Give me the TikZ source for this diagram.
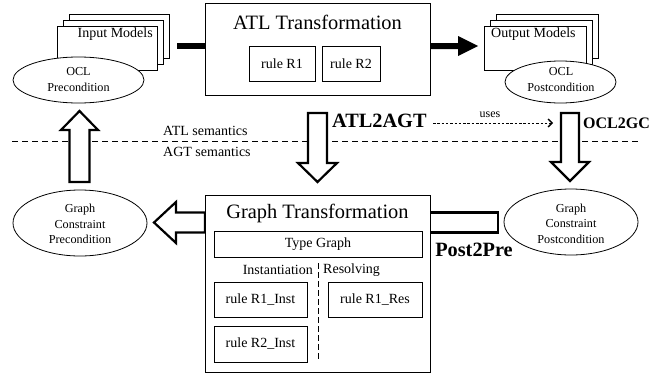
\documentclass[tikz,border=0pt]{standalone}
\usepackage{fontspec}
\setmainfont{Liberation Serif}
\usetikzlibrary{arrows.meta,shapes.geometric}
\begin{document}
\begin{tikzpicture}[x=1pt,y=-1pt,
  box/.style={draw, line width=0.8pt, fill=white, inner sep=0pt},
  ell/.style={draw, ellipse, line width=0.8pt, fill=white, inner sep=0pt},
  txt/.style={inner sep=0pt, font=\fontsize{14}{16}\selectfont},
  small/.style={inner sep=0pt, align=center, font=\fontsize{12.2}{15.5}\selectfont},
  title/.style={inner sep=0pt, font=\fontsize{20.4}{24}\selectfont},
  bold/.style={inner sep=0pt, font=\fontsize{20.3}{24}\selectfont\bfseries},
  hollow/.style={draw, line width=2.2pt, fill=white, line join=miter},
  sep/.style={draw, line width=0.8pt, dash pattern=on 6pt off 4pt}]
\useasboundingbox (0,0) rectangle (651,375);

% input model stack
\draw[box] (69,14) rectangle (169,58);
\draw[box] (63,20) rectangle (163,64);
\draw[box] (57,26) rectangle (157,70);
\node[txt, anchor=east] (inm) at (153,34) {Input Models};
\node[ell, minimum width=131pt, minimum height=46pt] (oclpre) at (78.5,80) {};
\node[small] at (78.5,79.5) {OCL\\Precondition};

% output model stack
\draw[box] (496,14) rectangle (598,58);
\draw[box] (490,20) rectangle (592,64);
\draw[box] (484,26) rectangle (586,70);
\node[txt, anchor=west] (outm) at (491,34) {Output Models};
\node[ell, minimum width=111pt, minimum height=42pt] (oclpost) at (560.5,82) {};
\node[small] at (561,79.5) {OCL\\Postcondition};

% ATL transformation
\node[box, minimum width=225pt, minimum height=92pt] (atl) at (317.5,49) {};
\node[title] at (317.5,22) {ATL Transformation};
\node[box, txt, minimum width=66pt, minimum height=35pt] (r1) at (282,63.5) {rule R1};
\node[box, txt, minimum width=58pt, minimum height=35pt] (r2) at (351,63.5) {rule R2};

% thick arrows
\coordinate (ins) at (177,46);
\draw[line width=6pt] (ins) -- (ins -| atl.west);
\fill (atl.east |- 0,43) -- (458,43) -- (458,36) -- (478,46) -- (458,56) -- (458,49) -- (atl.east |- 0,49) -- cycle;

% semantics separator
\draw[sep] (12,141) -- (640,141);
\node[txt, anchor=west] at (163,131) {ATL semantics};
\node[txt, anchor=west] at (163,152) {AGT semantics};

% hollow arrows
\draw[hollow] (69.5,182) -- (69.5,130) -- (61,130) -- (79.5,111) -- (98,130) -- (89.5,130) -- (89.5,182) -- cycle;
\draw[hollow] (308,113) -- (327,113) -- (327,163) -- (337,163) -- (317.5,182) -- (298,163) -- (308,163) -- cycle;
\draw[hollow] (561,113) -- (579,113) -- (579,162) -- (589,162) -- (570,181) -- (551,162) -- (561,162) -- cycle;
\draw[hollow] (205,212.5) -- (176,212.5) -- (176,202) -- (154,222.5) -- (176,243) -- (176,232.5) -- (205,232.5) -- cycle;
\draw[hollow] (430,212.5) -- (498,212.5) -- (498,232.5) -- (430,232.5) -- cycle;

\node[bold, anchor=west] at (332,121) {ATL2AGT};
\node[inner sep=0pt, font=\fontsize{16}{18}\selectfont\bfseries, anchor=west] at (583,123) {OCL2GC};
\node[bold] at (474,250) {Post2Pre};

% uses
\coordinate (u1) at (433,123);
\coordinate (u2) at (553,123);
\draw[line width=0.8pt, dash pattern=on 2.5pt off 1.8pt, -{Straight Barb[length=4pt,width=8pt,line width=1.4pt]}] (u1) -- (u2);
\node[inner sep=0pt, font=\fontsize{12}{14}\selectfont] at (490,115) {uses};

% Graph transformation
\node[box, minimum width=225pt, minimum height=177pt] (gt) at (317.5,283.5) {};
\node[title] at (317.5,213) {Graph Transformation};
\node[box, txt, minimum width=208pt, minimum height=26pt] (tg) at (318,244) {Type Graph};
\node[txt, anchor=east] at (313,270) {Instantiation};
\node[txt, anchor=west] at (323,270) {Resolving};
\draw[line width=0.8pt, dash pattern=on 6pt off 3pt] (318,263) -- (318,360);
\node[box, txt, minimum width=93pt, minimum height=35pt] (r1i) at (260.5,299.5) {rule R1\_Inst};
\node[box, txt, minimum width=93pt, minimum height=36pt] (r2i) at (260.5,344) {rule R2\_Inst};
\node[box, txt, minimum width=94pt, minimum height=35pt] (r1r) at (375,299.5) {rule R1\_Res};

% graph constraints
\node[ell, minimum width=134pt, minimum height=66pt] (gcpre) at (80,223) {};
\node[small] at (80,224) {Graph\\Constraint\\Precondition};
\node[ell, minimum width=134pt, minimum height=66pt] (gcpost) at (571,222) {};
\node[small] at (571,223.5) {Graph\\Constraint\\Postcondition};
\end{tikzpicture}
\end{document}
